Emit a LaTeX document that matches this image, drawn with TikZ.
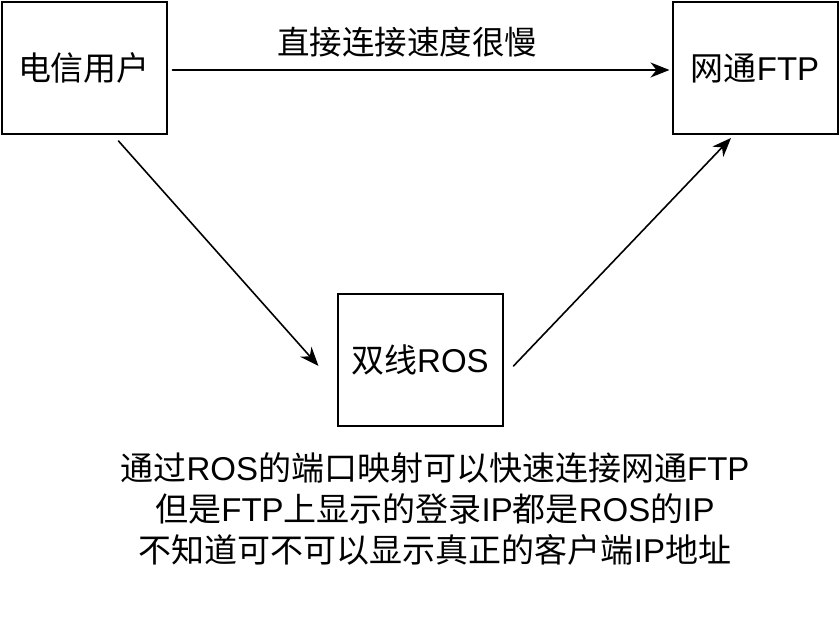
\documentclass[tikz,border=0pt]{standalone}
\usepackage{fontspec}
\setmainfont{Liberation Sans}
\newfontfamily\cjk{Noto Sans CJK SC}
\usetikzlibrary{arrows.meta}
\begin{document}
\begin{tikzpicture}[x=1pt,y=-1pt,line cap=round,
    box/.style={draw,line width=2pt,inner sep=0pt,minimum width=165pt,minimum height=132pt,font=\fontsize{33}{38}\selectfont},
    arr/.style={line width=1.6pt,-{Stealth[length=19pt,width=15pt,inset=6pt]}}]
    \useasboundingbox (0,0) rectangle (839,617);
    \node[box] (user) at (84,68) {\cjk 电信用户};
    \node[box] (ftp) at (755,68) {{\cjk 网通}FTP};
    \node[box] (ros) at (420,360) {{\cjk 双线}ROS};
    \node[font=\fontsize{32.5}{38}\selectfont] (slow) at (407,42) {\cjk 直接连接速度很慢};
    \node[align=center,font=\fontsize{33}{41}\selectfont] (note) at (435,509)
      {{\cjk 通过}ROS{\cjk 的端口映射可以快速连接网通}FTP\\
       {\cjk 但是}FTP{\cjk 上显示的登录}IP{\cjk 都是}ROS{\cjk 的}IP\\
       {\cjk 不知道可不可以显示真正的客户端}IP{\cjk 地址}};
    \draw[arr] ([shift={(5,2)}]user.east) -- ([shift={(-2,2)}]ftp.west);
    \draw[arr] ([shift={(-49,6)}]user.south east) -- ([shift={(-18,6)}]ros.west);
    \draw[arr] ([shift={(10,6)}]ros.east) -- ([shift={(-24,3)}]ftp.south);
  \end{tikzpicture}
\end{document}
